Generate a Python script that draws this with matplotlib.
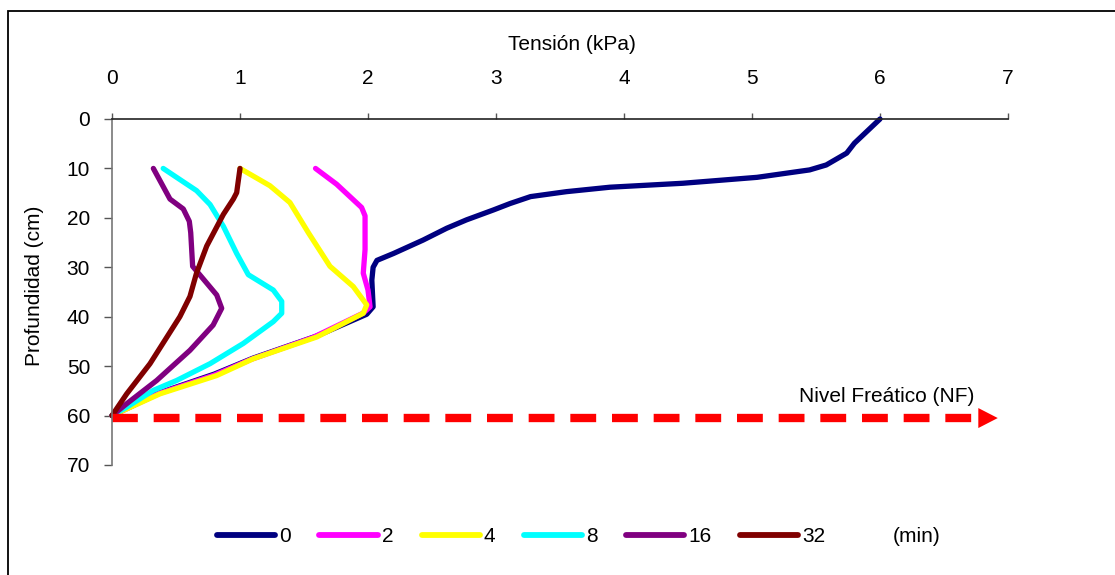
import matplotlib
matplotlib.use("Agg")
import matplotlib.pyplot as plt
from matplotlib.patches import Rectangle

plt.rcParams['font.family'] = ['Liberation Sans', 'DejaVu Sans']
FS = 15

# ---- data (tension kPa, depth cm) ----
series_labels = ["0", "2", "4", "8", "16", "32"]
series_colors = ["#000080", "#FF00FF", "#FFFF00", "#00FFFF", "#800080", "#800000"]

t0_x = [6.00, 5.80, 5.74, 5.58, 5.45, 5.04, 4.46, 3.89, 3.55, 3.27, 3.11, 2.98, 2.77, 2.615, 2.43, 2.20, 2.07, 2.04, 2.03, 2.04, 1.99, 1.60, 1.10, 0.80, 0.37, 0.00]
t0_y = [0.0, 4.9, 6.9, 9.3, 10.3, 11.8, 13.0, 13.8, 14.7, 15.7, 17.1, 18.4, 20.4, 22.1, 24.5, 27.2, 28.6, 30.0, 32.6, 38.0, 39.5, 43.9, 48.4, 51.6, 55.4, 60.0]

t2_x = [1.59, 1.755, 1.95, 1.977, 1.977, 1.963, 2.00, 2.016, 1.96, 1.57, 1.08, 0.80, 0.37, 0.00]
t2_y = [10.0, 13.2, 17.9, 19.6, 26.4, 31.2, 34.6, 38.0, 39.3, 44.2, 48.7, 51.8, 55.5, 60.0]

t4_x = [1.00, 1.234, 1.39, 1.534, 1.703, 1.885, 1.99, 1.963, 1.60, 1.104, 0.818, 0.375, 0.00]
t4_y = [10.0, 13.5, 16.9, 23.0, 29.8, 33.9, 37.6, 39.3, 44.1, 48.5, 51.9, 55.6, 60.0]

t8_x = [0.40, 0.661, 0.766, 0.87, 0.974, 1.065, 1.26, 1.326, 1.326, 1.26, 1.026, 0.766, 0.505, 0.323, 0.115, 0.00]
t8_y = [10.0, 14.5, 17.3, 21.7, 27.2, 31.5, 34.6, 36.9, 39.3, 41.0, 45.4, 49.5, 52.9, 54.9, 58.3, 60.0]

t16_x = [0.323, 0.453, 0.557, 0.604, 0.615, 0.630, 0.818, 0.857, 0.79, 0.609, 0.349, 0.115, 0.00]
t16_y = [10.0, 16.2, 18.2, 20.7, 23.0, 29.8, 35.6, 38.3, 41.7, 46.8, 52.9, 57.6, 60.0]

t32_x = [1.00, 0.974, 0.948, 0.87, 0.74, 0.66, 0.609, 0.53, 0.297, 0.115, 0.00]
t32_y = [10.0, 14.9, 16.2, 19.3, 25.7, 31.2, 35.9, 40.0, 49.5, 55.6, 60.0]

series_x = [t0_x, t2_x, t4_x, t8_x, t16_x, t32_x]
series_y = [t0_y, t2_y, t4_y, t8_y, t16_y, t32_y]

nf_depth = 60.5
nf_start, nf_end = 0.0, 6.78

x_ticks = [0, 1, 2, 3, 4, 5, 6, 7]
y_ticks = [0, 10, 20, 30, 40, 50, 60, 70]

# ---- figure ----
W, H = 1115, 575
fig = plt.figure(figsize=(W / 100, H / 100), dpi=100)
ax = fig.add_axes([112 / W, 1 - 465 / H, 896 / W, 346 / H])

handles = []
for xs, ys, c, lab in zip(series_x, series_y, series_colors, series_labels):
    h, = ax.plot(xs, ys, color=c, lw=3.8, solid_capstyle='round',
                 solid_joinstyle='round', label=lab, clip_on=False)
    handles.append(h)

# water table dashed arrow
ax.plot([nf_start, nf_end], [nf_depth, nf_depth], color='#FF0000', lw=6,
        dashes=(3.1, 1.9), solid_capstyle='butt', dash_capstyle='butt', clip_on=False)
ax.annotate('', xy=(6.92, nf_depth), xytext=(6.76, nf_depth),
            arrowprops=dict(arrowstyle='-|>,head_length=0.7,head_width=0.36',
                            mutation_scale=20, color='#FF0000', lw=0,
                            shrinkA=0, shrinkB=0),
            annotation_clip=False)
ax.text(5.37, 56.1, 'Nivel Freático (NF)', fontsize=FS, ha='left', va='center')

ax.set_xlim(0, 7)
ax.set_ylim(70, 0)
ax.set_xticks(x_ticks)
ax.set_yticks(y_ticks)
ax.xaxis.tick_top()
ax.tick_params(axis='x', direction='out', length=4.5, width=1, color='#555555',
               labelsize=FS, pad=18)
ax.tick_params(axis='y', direction='out', length=5.8, width=1, color='#555555',
               labelsize=FS, pad=10)
for s in ['right', 'bottom']:
    ax.spines[s].set_visible(False)
ax.spines['top'].set_color('#222222')
ax.spines['left'].set_color('#777777')
ax.spines['top'].set_linewidth(1.2)
ax.spines['left'].set_linewidth(1.2)

fig.text(572 / W, 1 - 45 / H, 'Tensión (kPa)', fontsize=FS, ha='center', va='center')
fig.text(35 / W, 1 - 286 / H, 'Profundidad (cm)', fontsize=FS, ha='center',
         va='center', rotation=90)

leg = fig.legend(handles=handles, loc='center left', ncol=6,
                 bbox_to_anchor=(217 / W, 1 - 537 / H), frameon=False,
                 fontsize=FS, handlelength=2.8, handletextpad=0.2,
                 columnspacing=1.35, borderpad=0, borderaxespad=0)
for ln in leg.get_lines():
    ln.set_linewidth(4.2)
    ln.set_solid_capstyle('round')
fig.text(893 / W, 1 - 537 / H, '(min)', fontsize=FS, ha='left', va='center')

# outer chart border (only left and top visible in frame)
fig.add_artist(Rectangle((8 / W, -0.2), 2.0, 1.2 - 11 / H, fill=False,
                         edgecolor='black', lw=1.3, transform=fig.transFigure))

fig.savefig('out.png', dpi=100)
